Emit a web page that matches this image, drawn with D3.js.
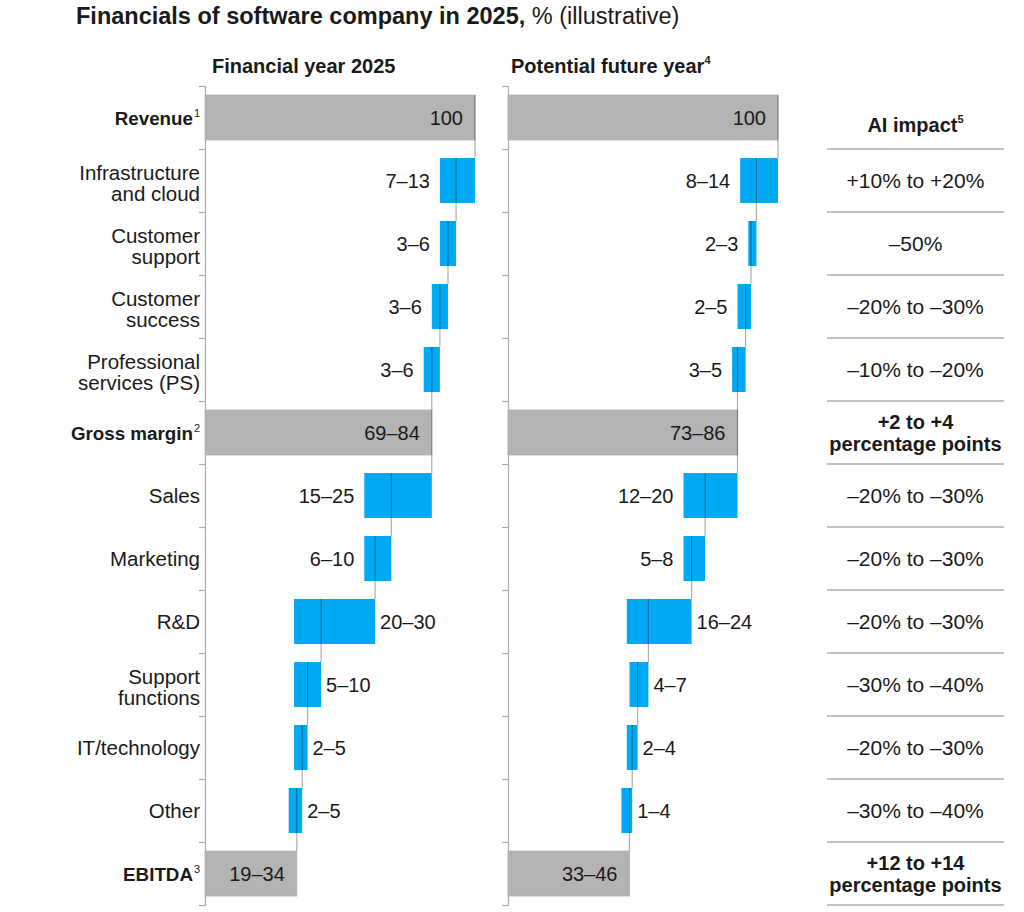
<!DOCTYPE html>
<html><head><meta charset="utf-8">
<script src="https://cdn.jsdelivr.net/npm/d3@7"></script>
<style>
html,body{margin:0;padding:0;background:#fff;}
svg{display:block;font-family:"Liberation Sans",Arial,sans-serif;}
</style></head>
<body><svg id="chart" width="1024" height="912"></svg>
<script>
// ---------- DATA ----------
const categories = ["Revenue","Infrastructure\nand cloud","Customer\nsupport","Customer\nsuccess","Professional\nservices (PS)","Gross margin","Sales","Marketing","R&D","Support\nfunctions","IT/technology","Other","EBITDA"];
const categorySup = ["1","","","","","2","","","","","","","3"];
const rowType = ["start","cost","cost","cost","cost","total","cost","cost","cost","cost","cost","cost","total"];
const fy2025Low  = [100, 7, 3, 3, 3, null, 15, 6, 20, 5, 2, 2, null];
const fy2025High = [100,13, 6, 6, 6, null, 25,10, 30,10, 5, 5, null];
const fy2025Labels = ["100","7–13","3–6","3–6","3–6","69–84","15–25","6–10","20–30","5–10","2–5","2–5","19–34"];
const futureLow  = [100, 8, 2, 2, 3, null, 12, 5, 16, 4, 2, 1, null];
const futureHigh = [100,14, 3, 5, 5, null, 20, 8, 24, 7, 4, 4, null];
const futureLabels = ["100","8–14","2–3","2–5","3–5","73–86","12–20","5–8","16–24","4–7","2–4","1–4","33–46"];
const aiImpact = ["AI impact","+10% to +20%","–50%","–20% to –30%","–10% to –20%","+2 to +4\npercentage points","–20% to –30%","–20% to –30%","–20% to –30%","–30% to –40%","–20% to –30%","–30% to –40%","+12 to +14\npercentage points"];
const aiImpactBold = [true,false,false,false,false,true,false,false,false,false,false,false,true];
const titleBold = "Financials of software company in 2025,";
const titleRest = " % (illustrative)";
const panelTitles = [["Financial year 2025",""],["Potential future year","4"]];

// ---------- LAYOUT ----------
const svg = d3.select("#chart");
const BLUE = "#00a9f4", GREY = "#b3b3b3", TXT = "#1a1a1a", RULE = "#ababab";
const FS = 20;

const y = d3.scaleBand().domain(d3.range(categories.length)).range([86, 905])
  .paddingInner(0.286).paddingOuter(0.143);
const step = y.step();
const rowCenter = i => y(i) + y.bandwidth()/2;

// Title
const t = svg.append("text").attr("x", 76).attr("y", 24).attr("fill", TXT).attr("font-size", 23.5);
t.append("tspan").attr("font-weight", 700).text(titleBold);
t.append("tspan").attr("font-weight", 400).text(titleRest);

// Row labels
categories.forEach((c, i) => {
  const lines = c.split("\n");
  const bold = rowType[i] !== "cost";
  const g = svg.append("text").attr("text-anchor", "end").attr("fill", TXT)
    .attr("font-size", bold ? 18.8 : 20.5).attr("font-weight", bold ? 700 : 400);
  if (lines.length === 1) {
    const tt = g.attr("x", categorySup[i] ? 193 : 200).attr("y", rowCenter(i) + 7);
    tt.append("tspan").text(lines[0]);
  } else {
    lines.forEach((l, k) => g.append("tspan").attr("x", 200).attr("y", rowCenter(i) - 1 + k*21).text(l));
  }
  if (categorySup[i]) {
    svg.append("text").attr("x", 194).attr("y", rowCenter(i) - 1).attr("fill", TXT)
      .attr("font-size", 11).attr("font-weight", 400).text(categorySup[i]);
  }
});

function drawPanel(x0, low, high, labels, title, titleX) {
  const x = d3.scaleLinear().domain([0, 100]).range([x0, x0 + 270]);
  const g = svg.append("g");
  // panel title
  const pt = g.append("text").attr("x", titleX).attr("y", 73).attr("fill", TXT)
    .attr("font-size", 20).attr("font-weight", 700);
  pt.append("tspan").text(title[0]);
  if (title[1]) pt.append("tspan").attr("font-size", 11).attr("dy", -9).text(title[1]);

  // axis with ticks at row boundaries
  const axis = d3.axisLeft(d3.scaleLinear().domain([0, categories.length]).range([86, 905]))
    .ticks(categories.length).tickSize(6).tickFormat("");
  const ag = g.append("g").attr("transform", `translate(${x0},0)`).call(axis);
  ag.selectAll("path,line").attr("stroke", RULE).attr("stroke-width", 1.2);

  // compute running positions
  let run = 0;
  const bars = [];
  categories.forEach((c, i) => {
    if (rowType[i] === "start") { bars.push({i, a: 0, b: high[i], line: high[i], type: "total"}); run = high[i]; }
    else if (rowType[i] === "total") { bars.push({i, a: 0, b: run, line: run, type: "total"}); }
    else { bars.push({i, a: run - high[i], b: run, line: run - low[i], type: "cost"}); run = run - low[i]; }
  });

  // bars
  bars.forEach(d => {
    g.append("rect").attr("x", x(d.a)).attr("y", y(d.i)).attr("width", x(d.b) - x(d.a))
      .attr("height", y.bandwidth())
      .attr("fill", d.type === "total" ? GREY : BLUE)
      .attr("stroke", d.type === "total" ? "#a9b3bf" : "none").attr("stroke-width", 0.8);
  });
  // connectors
  bars.forEach((d, k) => {
    if (k === bars.length - 1) return;
    g.append("line").attr("x1", x(d.line)).attr("x2", x(d.line))
      .attr("y1", y(d.i)).attr("y2", y(bars[k+1].i))
      .attr("stroke", "rgba(0,0,0,0.32)").attr("stroke-width", 1.2);
  });
  // value labels
  bars.forEach(d => {
    const cy = rowCenter(d.i) + 7;
    const tx = g.append("text").attr("y", cy).attr("fill", TXT).attr("font-size", FS).text(labels[d.i]);
    if (d.type === "total") tx.attr("x", x(d.b) - 12).attr("text-anchor", "end");
    else if (d.a < 50) tx.attr("x", x(d.b) + 5).attr("text-anchor", "start");
    else tx.attr("x", x(d.a) - 10).attr("text-anchor", "end");
  });
}
drawPanel(205, fy2025Low, fy2025High, fy2025Labels, panelTitles[0], 212);
drawPanel(508, futureLow, futureHigh, futureLabels, panelTitles[1], 511);

// AI impact table
const tx0 = 827, tx1 = 1004, tcx = (tx0 + tx1) / 2;
aiImpact.forEach((v, i) => {
  const lines = v.split("\n");
  const bold = aiImpactBold[i];
  const txt = svg.append("text").attr("text-anchor", "middle").attr("fill", TXT)
    .attr("font-size", bold ? FS : 21).attr("font-weight", bold ? 700 : 400);
  if (lines.length === 1) {
    txt.attr("x", tcx).attr("y", rowCenter(i) + 7 + (i === 0 ? 7 : 0)).text(v);
    if (i === 0) txt.append("tspan").attr("font-size", 11).attr("dy", -9).text("5");
  } else {
    lines.forEach((l, k) => txt.append("tspan").attr("x", tcx).attr("y", rowCenter(i) - 4 + k*22).text(l));
  }
  svg.append("line").attr("x1", tx0).attr("x2", tx1)
    .attr("y1", y(i) - y.paddingOuter()*step + step).attr("y2", y(i) - y.paddingOuter()*step + step)
    .attr("stroke", RULE).attr("stroke-width", 1.3);
});
</script></body></html>
